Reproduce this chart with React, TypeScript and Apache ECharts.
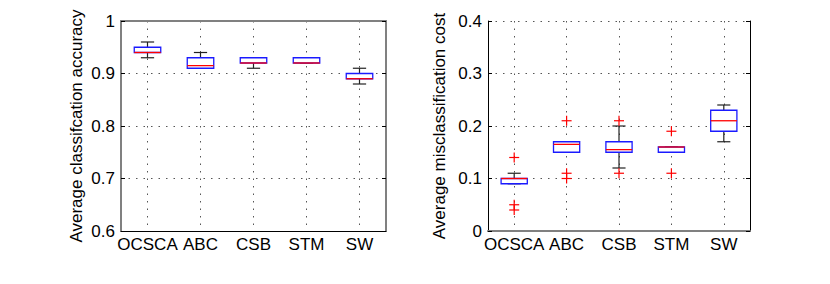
import React, { useEffect, useRef } from 'react';
import * as echarts from 'echarts';

const categories = ['OCSCA', 'ABC', 'CSB', 'STM', 'SW'];
// [lower whisker, q1, median, q3, upper whisker]
const accuracyBoxes = [
  [0.93, 0.94, 0.94, 0.95, 0.96],
  [0.91, 0.91, 0.915, 0.93, 0.94],
  [0.91, 0.92, 0.92, 0.93, 0.93],
  [0.92, 0.92, 0.92, 0.93, 0.93],
  [0.88, 0.89, 0.89, 0.9, 0.91],
];
const accuracyOutliers: number[][] = [];
const costBoxes = [
  [0.09, 0.09, 0.1, 0.1, 0.11],
  [0.15, 0.15, 0.165, 0.17, 0.17],
  [0.12, 0.15, 0.155, 0.17, 0.2],
  [0.15, 0.15, 0.16, 0.16, 0.16],
  [0.17, 0.19, 0.21, 0.23, 0.24],
];
const costOutliers = [
  [0, 0.14], [0, 0.05], [0, 0.04],
  [1, 0.21], [1, 0.11], [1, 0.1],
  [2, 0.21], [2, 0.11],
  [3, 0.19], [3, 0.11],
];
const accuracyTicks = { min: 0.6, max: 1, interval: 0.1 };
const costTicks = { min: 0, max: 0.4, interval: 0.1 };
const accuracyName = 'Average classifcation accuracy';
const costName = 'Average misclassification cost';

const FONT = "'Liberation Sans', Arial, sans-serif";
const BLUE = '#1a1aff';
const RED = '#ff0000';
const WHISK = '#222';

const renderBox = (params: any, api: any) => {
  const idx = api.value(0);
  const lo = api.coord([idx, api.value(1)]);
  const q1 = api.coord([idx, api.value(2)]);
  const med = api.coord([idx, api.value(3)]);
  const q3 = api.coord([idx, api.value(4)]);
  const hi = api.coord([idx, api.value(5)]);
  const band = api.size([1, 0])[0];
  const bw = band * 0.5;
  const cw = band * 0.25;
  const x = lo[0];
  const ls = { stroke: WHISK, lineWidth: 1.2 };
  return {
    type: 'group',
    children: [
      { type: 'line', shape: { x1: x, y1: q1[1], x2: x, y2: lo[1] }, style: ls },
      { type: 'line', shape: { x1: x - cw / 2, y1: lo[1], x2: x + cw / 2, y2: lo[1] }, style: ls },
      { type: 'line', shape: { x1: x, y1: q3[1], x2: x, y2: hi[1] }, style: ls },
      { type: 'line', shape: { x1: x - cw / 2, y1: hi[1], x2: x + cw / 2, y2: hi[1] }, style: ls },
      {
        type: 'rect',
        shape: { x: x - bw / 2, y: q3[1], width: bw, height: Math.max(q1[1] - q3[1], 0.5) },
        style: { fill: '#fff', stroke: BLUE, lineWidth: 1.3 },
      },
      { type: 'line', shape: { x1: x - bw / 2, y1: med[1], x2: x + bw / 2, y2: med[1] }, style: { stroke: RED, lineWidth: 1.3 } },
    ],
  };
};

const renderPlus = (params: any, api: any) => {
  const p = api.coord([api.value(0), api.value(1)]);
  const s = 5;
  const st = { stroke: RED, lineWidth: 1.2 };
  return {
    type: 'group',
    children: [
      { type: 'line', shape: { x1: p[0] - s, y1: p[1], x2: p[0] + s, y2: p[1] }, style: st },
      { type: 'line', shape: { x1: p[0], y1: p[1] - s, x2: p[0], y2: p[1] + s }, style: st },
    ],
  };
};

const labelStyle = { fontSize: 17, color: '#000', fontFamily: FONT };
const gridLine = { show: true, alignWithLabel: true, lineStyle: { type: [1.5, 6], color: '#555', width: 1 } };

const mainX = (gridIndex: number) => ({
  gridIndex,
  type: 'category',
  data: categories,
  boundaryGap: true,
  axisLine: { lineStyle: { color: '#000', width: 1 } },
  axisTick: { inside: true, alignWithLabel: true, length: 4, lineStyle: { color: '#000' } },
  axisLabel: { ...labelStyle, margin: 5, interval: 0 },
  splitLine: gridLine,
});
const topX = (gridIndex: number, color: string, width: number) => ({
  gridIndex,
  type: 'category',
  position: 'top',
  data: categories,
  boundaryGap: true,
  axisLine: { lineStyle: { color, width } },
  axisTick: { inside: true, alignWithLabel: true, length: 4, lineStyle: { color: '#000' } },
  axisLabel: { show: false },
  splitLine: { show: false },
});
const mainY = (gridIndex: number, t: any, name: string, color: string, width: number, gap: number) => ({
  gridIndex,
  type: 'value',
  min: t.min,
  max: t.max,
  interval: t.interval,
  name,
  nameLocation: 'middle',
  nameGap: gap,
  nameTextStyle: { ...labelStyle },
  axisLine: { show: true, lineStyle: { color, width } },
  axisTick: { show: true, inside: true, length: 4, lineStyle: { color: '#000' } },
  axisLabel: { ...labelStyle, margin: 6 },
  splitLine: { show: true, lineStyle: { type: [1.5, 6], color: '#555', width: 1 } },
});
const rightY = (gridIndex: number, t: any, color: string, width: number) => ({
  gridIndex,
  type: 'value',
  position: 'right',
  min: t.min,
  max: t.max,
  interval: t.interval,
  axisLine: { show: true, lineStyle: { color, width } },
  axisTick: { show: true, inside: true, length: 4, lineStyle: { color: '#000' } },
  axisLabel: { show: false },
  splitLine: { show: false },
});

export default function App() {
  const ref = useRef<HTMLDivElement>(null);
  useEffect(() => {
    document.body.style.margin = '0';
    if (!ref.current) return;
    const chart = echarts.init(ref.current, undefined, { renderer: 'svg' });
    chart.setOption({
      animation: false,
      backgroundColor: '#fff',
      grid: [
        { left: 121, top: 21, width: 265, height: 210 },
        { left: 488, top: 21, width: 262, height: 210 },
      ],
      xAxis: [mainX(0), topX(0, '#808080', 2), mainX(1), topX(1, '#808080', 2)],
      yAxis: [
        mainY(0, accuracyTicks, accuracyName, '#808080', 2, 36),
        rightY(0, accuracyTicks, '#808080', 2),
        mainY(1, costTicks, costName, '#000', 1, 40),
        rightY(1, costTicks, '#000', 1),
      ],
      series: [
        {
          type: 'custom',
          xAxisIndex: 0,
          yAxisIndex: 0,
          renderItem: renderBox,
          data: accuracyBoxes.map((b, i) => [i, ...b]),
          encode: { x: 0, y: [1, 2, 3, 4, 5] },
        },
        {
          type: 'custom',
          xAxisIndex: 0,
          yAxisIndex: 0,
          renderItem: renderPlus,
          data: accuracyOutliers,
          encode: { x: 0, y: 1 },
        },
        {
          type: 'custom',
          xAxisIndex: 2,
          yAxisIndex: 2,
          renderItem: renderBox,
          data: costBoxes.map((b, i) => [i, ...b]),
          encode: { x: 0, y: [1, 2, 3, 4, 5] },
        },
        {
          type: 'custom',
          xAxisIndex: 2,
          yAxisIndex: 2,
          renderItem: renderPlus,
          data: costOutliers,
          encode: { x: 0, y: 1 },
        },
      ],
    });
    return () => chart.dispose();
  }, []);
  return <div ref={ref} style={{ width: 830, height: 284 }} />;
}
